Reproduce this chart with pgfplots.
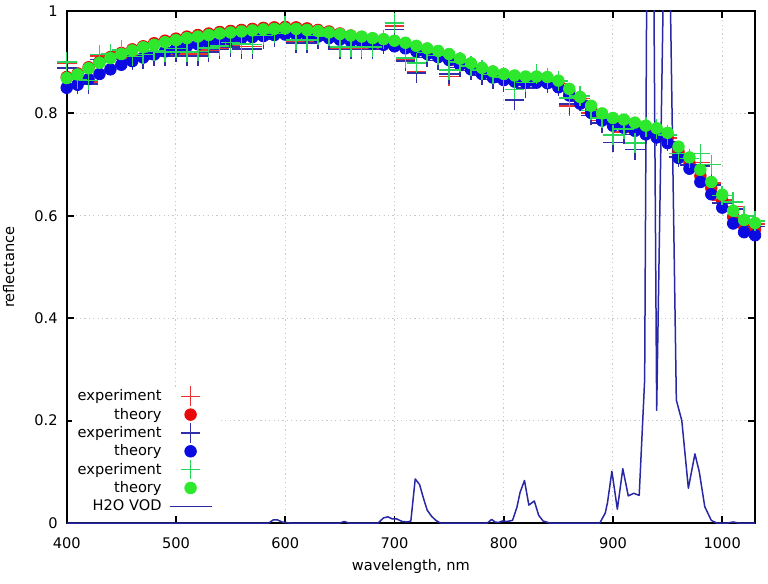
\documentclass[border=0pt]{standalone}
\usepackage{pgfplots}
\pgfplotsset{compat=1.18}
\usepackage{pgfplotstable}
\usepackage{fontspec}
\setmainfont{DejaVu Sans}
\definecolor{expred}{RGB}{232,50,50}
\definecolor{expblue}{RGB}{50,45,170}
\definecolor{expgreen}{RGB}{40,215,90}
\definecolor{thred}{RGB}{232,10,10}
\definecolor{thblue}{RGB}{10,10,225}
\definecolor{thgreen}{RGB}{45,232,45}
\definecolor{h2o}{RGB}{40,40,165}
\definecolor{gridgray}{RGB}{200,200,200}

\pgfplotstableread{
x r b g
400 .871 .850 .869
410 .878 .856 .876
420 .890 .867 .888
430 .901 .877 .899
440 .910 .886 .908
450 .918 .895 .916
460 .925 .902 .923
470 .931 .909 .929
480 .937 .915 .934
490 .942 .921 .939
500 .946 .926 .943
510 .950 .931 .947
520 .953 .935 .950
530 .956 .938 .953
540 .959 .941 .956
550 .961 .944 .958
560 .963 .947 .960
570 .965 .949 .962
580 .967 .951 .964
590 .968 .953 .965
600 .969 .954 .966
610 .968 .954 .965
620 .966 .952 .963
630 .963 .950 .961
640 .960 .947 .958
650 .956 .944 .955
660 .952 .941 .952
670 .949 .939 .950
680 .945 .936 .947
690 .942 .934 .945
700 .939 .931 .942
710 .935 .927 .938
720 .929 .921 .932
730 .924 .916 .927
740 .918 .910 .922
750 .912 .904 .916
760 .903 .895 .907
770 .894 .886 .898
780 .885 .877 .889
790 .878 .870 .882
800 .873 .865 .877
810 .870 .862 .874
820 .868 .860 .872
830 .868 .860 .872
840 .867 .859 .871
850 .859 .851 .864
860 .843 .835 .848
870 .827 .819 .832
880 .809 .801 .815
890 .794 .786 .800
900 .784 .776 .791
910 .781 .772 .788
920 .775 .766 .782
930 .768 .759 .776
940 .762 .753 .771
950 .752 .742 .762
960 .725 .713 .735
970 .703 .692 .714
980 .678 .666 .690
990 .654 .642 .666
1000 .629 .616 .641
1010 .598 .585 .610
1020 .580 .568 .592
1030 .574 .562 .586
}\thdata

\pgfplotstableread{
x r b g
400 .898 .889 .900
410 .862 .857 .866
420 .861 .857 .864
430 .912 .905 .915
440 .912 .906 .916
450 .920 .912 .924
460 .908 .904 .911
470 .912 .906 .915
480 .918 .912 .922
490 .916 .912 .920
500 .923 .919 .927
510 .916 .912 .920
520 .916 .912 .921
530 .924 .920 .928
540 .928 .925 .932
550 .934 .930 .938
560 .931 .926 .936
570 .931 .926 .935
580 .948 .944 .952
590 .952 .948 .956
600 .968 .962 .972
610 .941 .937 .943
620 .941 .937 .943
630 .948 .944 .952
640 .946 .942 .950
650 .928 .925 .930
660 .928 .925 .930
670 .928 .925 .930
680 .928 .925 .930
690 .940 .935 .944
700 .971 .964 .977
710 .904 .902 .908
720 .881 .879 .898
730 .914 .909 .919
740 .908 .903 .913
750 .872 .877 .885
760 .895 .890 .900
770 .888 .884 .893
780 .880 .875 .885
790 .871 .866 .876
800 .866 .861 .871
810 .826 .826 .847
820 .855 .850 .860
830 .872 .866 .877
840 .864 .859 .869
850 .858 .853 .863
860 .814 .818 .830
870 .829 .824 .834
880 .801 .796 .806
890 .786 .781 .791
900 .743 .743 .758
910 .764 .759 .770
920 .729 .729 .742
930 .768 .760 .774
940 .763 .755 .769
950 .752 .745 .758
960 .716 .715 .722
970 .699 .699 .712
980 .704 .697 .722
990 .664 .660 .700
1000 .631 .625 .640
1010 .618 .613 .627
1020 .590 .585 .600
1030 .584 .579 .590
}\expdata

\begin{document}
\begin{tikzpicture}[font=\fontsize{7.3}{8.8}\selectfont]
\begin{axis}[
  name=ax,
  scale only axis,
  width=344.15pt, height=256pt,
  xmin=400, xmax=1030, ymin=0, ymax=1,
  xtick={400,500,...,1000},
  ytick={0,0.2,0.4,0.6,0.8,1},
  yticklabels={0,0.2,0.4,0.6,0.8,1},
  /pgf/number format/1000 sep={},
  tick align=inside,
  tick pos=both,
  major tick length=3.5pt,
  grid=major,
  major grid style={dash pattern=on 0.6pt off 1.6pt, color=gridgray, line width=0.5pt},
  axis line style={line width=0.9pt},
  every tick/.style={black, line width=0.9pt},
  /pgf/number format/assume math mode=true,
  xticklabel style={inner sep=0pt, yshift=-7pt},
  yticklabel style={inner sep=0pt, xshift=-4.35pt},
  xlabel={wavelength, nm},
  ylabel={reflectance},
  every axis x label/.style={at={([yshift=-21.5pt]axis description cs:0.5,0)}, anchor=center},
  every axis y label/.style={at={([xshift=-29pt]axis description cs:0,0.5)}, rotate=90, anchor=center},
  legend plot pos=right,
  legend cell align=right,
  legend image code/.code={%
    \begin{pgfinterruptboundingbox}
    \draw[mark repeat=2,mark phase=2,#1] plot coordinates {(0pt,0pt) (10.5pt,0pt) (21pt,0pt)};
    \end{pgfinterruptboundingbox}
    \pgfpathrectangle{\pgfpoint{0pt}{-2pt}}{\pgfpoint{21pt}{4pt}}\pgfusepath{discard}%
  },
  legend style={at={(0.2198,0.0152)}, anchor=south east, draw=none, fill=white,
    inner xsep=3pt, inner ysep=2pt, row sep=4.67pt, column sep=4pt,
    nodes={inner sep=0pt, text height=4.5pt, text depth=0pt}},
]
\addplot[only marks, mark=+, mark size=4.9pt, color=expred, mark options={line width=0.75pt}] table[x=x,y=r]{\expdata};
\addlegendentry{experiment}
\addplot[only marks, mark=*, mark size=2.9pt, color=thred] table[x=x,y=r]{\thdata};
\addlegendentry{theory}
\addplot[only marks, mark=+, mark size=4.9pt, color=expblue, mark options={line width=0.75pt}] table[x=x,y=b]{\expdata};
\addlegendentry{experiment}
\addplot[only marks, mark=*, mark size=2.9pt, color=thblue] table[x=x,y=b]{\thdata};
\addlegendentry{theory}
\addplot[only marks, mark=+, mark size=4.9pt, color=expgreen, mark options={line width=0.75pt}] table[x=x,y=g]{\expdata};
\addlegendentry{experiment}
\addplot[only marks, mark=*, mark size=2.9pt, color=thgreen] table[x=x,y=g]{\thdata};
\addlegendentry{theory}
\addplot[color=h2o, line width=0.75pt, mark=none, line join=round] coordinates {
(400,0) (585,0) (589,0.006) (593,0.006) (597,0.002) (600,0.001) (605,0) (650,0) (654,0.003) (658,0)
(685,0) (690,0.01) (694,0.012) (698,0.008) (702,0.008) (707,0.003) (712,0.002) (715,0.004)
(719,0.086) (723,0.075) (727,0.045) (730,0.025) (734,0.013) (738,0.005) (742,0)
(785,0) (789,0.007) (792,0.002) (795,0.001) (799,0.004) (803,0.003) (808,0.005) (812,0.03)
(815,0.06) (819,0.083) (823,0.035) (828,0.043) (832,0.015) (836,0.004) (842,0)
(888,0) (893,0.02) (895,0.04) (899,0.101) (904,0.027) (909,0.106) (914,0.053) (919,0.058)
(924,0.054) (929,0.28) (932,1.5) (936,1.5) (940,0.22) (948,1.3) (952,1.1) (958,0.24)
(963,0.2) (969,0.068) (975,0.135) (979,0.1) (984,0.032) (990,0.005) (995,0) (1005,0)
(1010,0.002) (1015,0) (1030,0)
};
\addlegendentry{H2O VOD}
\end{axis}
\pgfresetboundingbox
\path[use as bounding box] ([shift={(-33.35pt,-30pt)}]ax.south west) rectangle ([shift={(6.5pt,5.5pt)}]ax.north east);
\end{tikzpicture}
\end{document}
